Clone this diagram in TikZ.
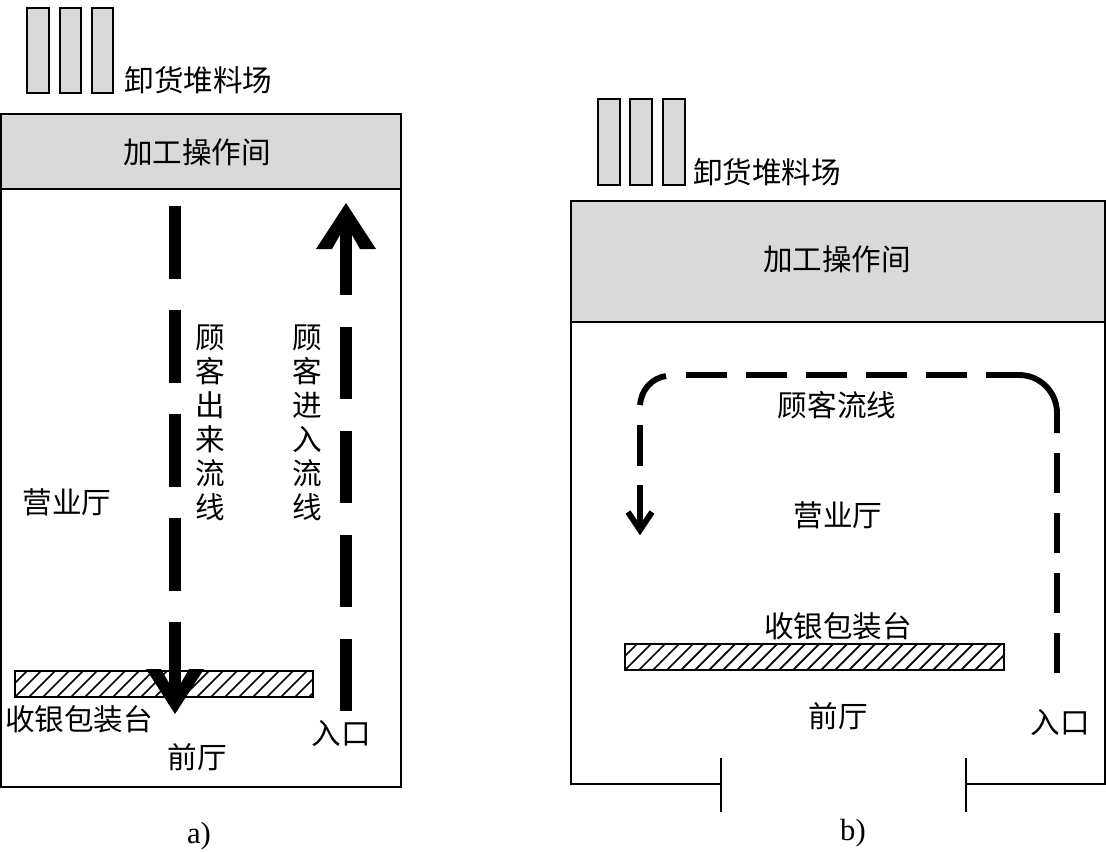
\documentclass[tikz,border=0pt]{standalone}
\usepackage{fontspec}
\setmainfont{Liberation Serif}
\newfontfamily\cjkfont{Noto Sans CJK SC}
\begin{document}
\begin{tikzpicture}[x=0.75pt,y=-0.75pt,
  wall/.style={draw=black,line width=2.1pt},
  thinwall/.style={draw=black,line width=1.9pt},
  greyfill/.style={fill=black!15},
  label/.style={inner sep=0pt,font=\cjkfont\fontsize{22.2}{25.5}\selectfont},
  vlabel/.style={label,align=center},
  caption/.style={inner sep=0pt,font=\fontsize{23}{27}\selectfont},
  flowA/.style={draw=black,line width=9pt},
  headA/.style={fill=black},
  flowB/.style={draw=black,line width=4.4pt},
  hatchline/.style={draw=black,line width=1.3pt},
]
\useasboundingbox (0,0) rectangle (1106,851);

% ---------- panel a ----------
\draw[wall] (1,114) rectangle (401,787);
\draw[wall,greyfill] (1,114) rectangle (401,189);
\foreach \xa/\xb in {27/49,60/81,92/113}
  \draw[wall,greyfill] (\xa,8) rectangle (\xb,93);
\node[label] (a-yard) at (198.5,80) {卸货堆料场};
\node[label] (a-work) at (197,152) {加工操作间};
\node[label] (a-hall) at (67,502) {营业厅};
\node[label] (a-cash) at (79,719) {收银包装台};
\node[label] (a-front) at (197,757) {前厅};
\node[label] (a-in) at (341,733) {入口};
\node[vlabel] (a-out-flow) at (210,423) {顾\\客\\出\\来\\流\\线};
\node[vlabel] (a-in-flow) at (307,423) {顾\\客\\进\\入\\流\\线};
\node[caption] (a-cap) at (199,836) {a)};

% hatched counter a
\begin{scope}
  \clip (15,671) rectangle (313,697);
  \foreach \i in {-2,...,24}
    \draw[hatchline] (15+\i*14,697) -- (41+\i*14,671);
\end{scope}
\draw[thinwall] (15,671) rectangle (313,697);

% flows a
\coordinate (a-out-start) at (175,206);
\coordinate (a-out-end) at (175,683);
\coordinate (a-out-tip) at (175,714);
\coordinate (a-in-start) at (346,711);
\coordinate (a-in-end) at (346,235);
\coordinate (a-in-tip) at (346,203);
\draw[flowA,dash pattern=on 54.6pt off 23.4pt] (a-out-start) -- (a-out-end);
\fill[headA] (a-out-tip) -- ++(-29,-45) -- ++(15,0) -- ++(8,14) -- ++(12,0) -- ++(8,-14) -- ++(15,0) -- cycle;
\draw[flowA,dash pattern=on 54pt off 24pt] (a-in-start) -- (a-in-end);
\fill[headA] (a-in-tip) -- ++(-30,46) -- ++(16,0) -- ++(8,-14) -- ++(12,0) -- ++(8,14) -- ++(16,0) -- cycle;

% ---------- panel b ----------
\draw[wall,greyfill] (571,201) rectangle (1105,322);
\draw[thinwall] (571,322) -- (571,784) -- (721,784);
\draw[thinwall] (966,784) -- (1105,784) -- (1105,322);
\draw[thinwall] (721,758) -- (721,812);
\draw[thinwall] (966,758) -- (966,812);
\foreach \xa/\xb in {598/620,630/652,663/685}
  \draw[wall,greyfill] (\xa,99) rectangle (\xb,185);
\node[label] (b-yard) at (767,172) {卸货堆料场};
\node[label] (b-work) at (837,259) {加工操作间};
\node[label] (b-flow) at (837,405) {顾客流线};
\node[label] (b-hall) at (838,515) {营业厅};
\node[label] (b-cash) at (838,626) {收银包装台};
\node[label] (b-front) at (838,716) {前厅};
\node[label] (b-in) at (1060,722) {入口};
\node[caption] (b-cap) at (853,833) {b)};

% hatched counter b
\begin{scope}
  \clip (625,644) rectangle (1004,670);
  \foreach \i in {-2,...,28}
    \draw[hatchline] (625+\i*14,670) -- (651+\i*14,644);
\end{scope}
\draw[thinwall] (625,644) rectangle (1004,670);

% flow b
\coordinate (b-r0) at (1057,673);
\coordinate (b-r1) at (1057,453);
\coordinate (b-c0) at (1057,433);
\coordinate (b-c1) at (986,375);
\coordinate (b-t0) at (967,375);
\coordinate (b-t1) at (686,375);
\coordinate (b-l0) at (666,376);
\coordinate (b-l1) at (640,405);
\coordinate (b-d0) at (640,425);
\coordinate (b-d1) at (640,466);
\coordinate (b-d2) at (640,485);
\coordinate (b-tip) at (640,530);
\draw[flowB,dash pattern=on 30pt off 15pt] (b-r0) -- (b-r1);
\draw[flowB] (b-c0) -- (1057,413) arc[start angle=0,end angle=-90,radius=38] -- (b-c1);
\draw[flowB,dash pattern=on 30.7pt off 14.3pt] (b-t0) -- (b-t1);
\draw[flowB] (b-l0) .. controls (652,378) and (641,390) .. (b-l1);
\draw[flowB] (b-d0) -- (b-d1);
\draw[flowB] (b-d2) -- (b-tip);
\draw[flowB,line join=miter] (628,512) -- (b-tip) -- (652,512);
\end{tikzpicture}
\end{document}
